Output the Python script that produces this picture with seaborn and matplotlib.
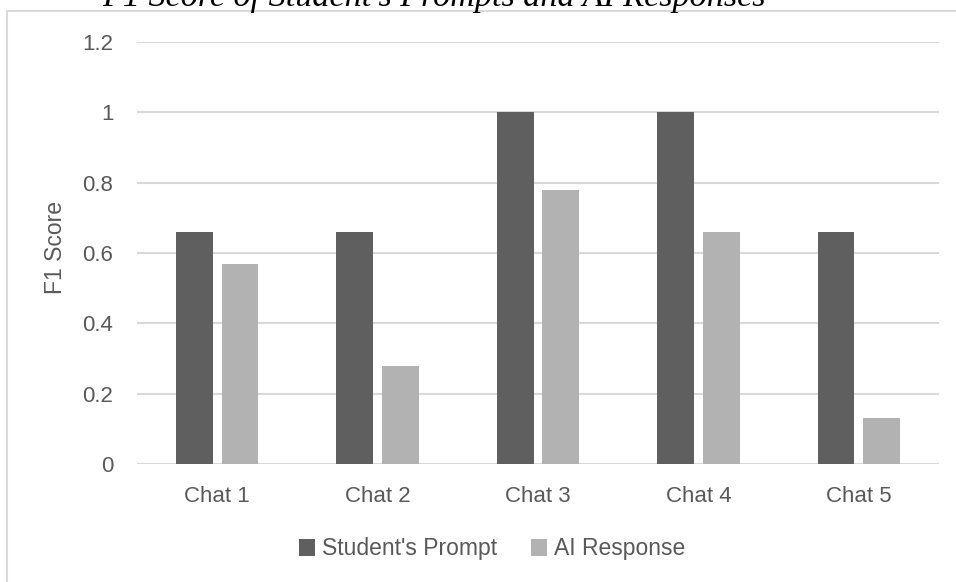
import matplotlib
matplotlib.use("Agg")
import matplotlib.pyplot as plt
from matplotlib.patches import Rectangle
import seaborn as sns
import pandas as pd

# Chart data
chats = ["Chat 1", "Chat 2", "Chat 3", "Chat 4", "Chat 5"]
student_prompt = [0.66, 0.66, 1.0, 1.0, 0.66]
ai_response = [0.57, 0.28, 0.78, 0.66, 0.13]
series_names = ["Student's Prompt", "AI Response"]
y_ticks = [0, 0.2, 0.4, 0.6, 0.8, 1.0, 1.2]
y_tick_labels = ["0", "0.2", "0.4", "0.6", "0.8", "1", "1.2"]
title = "F1 Score of Student's Prompts and AI Responses"

df = pd.DataFrame({
    "Chat": chats * 2,
    "Series": [series_names[0]] * len(chats) + [series_names[1]] * len(chats),
    "F1": student_prompt + ai_response,
})

sns.set_theme(style="white")
plt.rcParams["font.family"] = ["Liberation Sans", "DejaVu Sans"]

text_color = "#595959"
grid_color = "#d9d9d9"
palette = {series_names[0]: "#5f5f5f", series_names[1]: "#b2b2b2"}

W, H = 956, 582
fig = plt.figure(figsize=(W / 100, H / 100), dpi=100)
ax = fig.add_axes([137 / W, 1 - 464 / H, (939 - 137) / W, (464 - 42) / H])

sns.barplot(data=df, x="Chat", y="F1", hue="Series", order=chats,
            hue_order=series_names, palette=palette, width=0.567, gap=0.19,
            saturation=1, edgecolor="none", legend=False, ax=ax, zorder=3)

ax.set_ylim(0, 1.2)
ax.set_xlim(-0.5, len(chats) - 0.5)
ax.set_yticks(y_ticks)
ax.set_yticklabels(y_tick_labels)
ax.yaxis.grid(True, color=grid_color, linewidth=1.5, zorder=0)
ax.set_axisbelow(True)
for s in ax.spines.values():
    s.set_visible(False)
ax.tick_params(axis="y", length=0, pad=17, labelsize=16, labelcolor=text_color)
ax.tick_params(axis="x", length=0, pad=16, labelsize=16, labelcolor=text_color)
ax.set_xlabel("")
ax.set_ylabel("")

# Axis title
fig.text(55 / W, 1 - 247 / H, "F1 Score", rotation=90, ha="center", va="center",
         fontsize=16.5, color=text_color)

# Legend below the plot
handles = [Rectangle((0, 0), 1, 1, facecolor=palette[n], edgecolor="none") for n in series_names]
fig.legend(handles, series_names, loc="center", bbox_to_anchor=(492 / W, 1 - 549 / H),
           ncol=2, frameon=False, fontsize=16.5, labelcolor=text_color,
           handlelength=0.7, handleheight=0.7, handletextpad=0.3, columnspacing=1.5)

# Chart area border
fig.add_artist(Rectangle((7 / W, -0.1), 2, (1 - 11 / H) + 0.1, transform=fig.transFigure,
                         fill=False, edgecolor=grid_color, linewidth=1.5))

fig.text(102 / W, 1 - 6 / H, title, fontsize=24.6, style="italic",
         family=["Liberation Serif", "DejaVu Serif"], color="black", va="baseline")

fig.savefig("out.png", dpi=100, facecolor="white")
